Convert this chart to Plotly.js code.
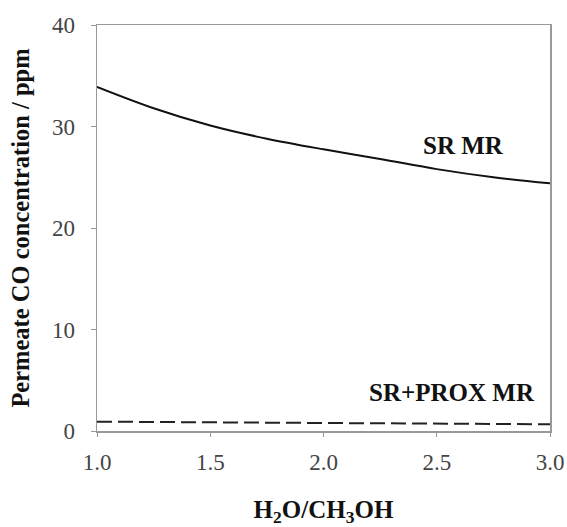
<!DOCTYPE html>
<html>
<head>
<meta charset="utf-8">
<script src="https://cdn.plot.ly/plotly-3.0.1.min.js"></script>
<style>html,body{margin:0;padding:0;background:#fff;}#chart{width:567px;height:527px;}</style>
</head>
<body>
<div id="chart"></div>
<script>
const ratio = [1.0, 1.25, 1.5, 1.75, 2.0, 2.25, 2.5, 2.75, 3.0];
const srMR = [33.9, 31.8, 30.1, 28.8, 27.75, 26.8, 25.8, 25.0, 24.4];
const srProxMR = [0.92, 0.88, 0.85, 0.81, 0.78, 0.75, 0.72, 0.69, 0.66];
const xTicks = [1.0, 1.5, 2.0, 2.5, 3.0];
const yTicks = [0, 10, 20, 30, 40];

const serif = '"Liberation Serif", "Times New Roman", serif';

const traces = [
  {x: ratio, y: srMR, mode: 'lines', line: {color: '#111', width: 2, shape: 'spline'}, showlegend: false, hoverinfo: 'skip'},
  {x: ratio, y: srProxMR, mode: 'lines', line: {color: '#222', width: 2, dash: '15px,6px'}, showlegend: false, hoverinfo: 'skip'}
];

const layout = {
  width: 567, height: 527,
  margin: {l: 97, r: 17, t: 25, b: 96},
  paper_bgcolor: '#fff', plot_bgcolor: '#fff',
  xaxis: {
    range: [1.0, 3.0], tickvals: xTicks, ticktext: xTicks.map(v => v.toFixed(1)),
    showgrid: false, zeroline: false, showline: true, mirror: true, linecolor: '#999', linewidth: 1.5,
    ticks: 'outside', ticklen: 4, tickcolor: '#999', tickwidth: 1,
    tickfont: {family: serif, size: 23, color: '#444'}, ticklabelstandoff: 6,
    title: {text: '<b>H<sub>2</sub>O/CH<sub>3</sub>OH</b>', font: {family: serif, size: 25, color: '#111'}, standoff: 27}
  },
  yaxis: {
    range: [0, 40], tickvals: yTicks,
    showgrid: false, zeroline: false, showline: true, mirror: true, linecolor: '#999', linewidth: 1.5,
    ticks: 'outside', ticklen: 5, tickcolor: '#999', tickwidth: 1,
    tickfont: {family: serif, size: 23, color: '#444'}, ticklabelstandoff: 11,
    title: {text: '<b>Permeate CO concentration / ppm</b>', font: {family: serif, size: 24.5, color: '#111'}, standoff: 15}
  },
  annotations: [
    {x: 2.616, y: 28.1, xref: 'x', yref: 'y', text: '<b>SR MR</b>', showarrow: false, font: {family: serif, size: 25, color: '#111'}},
    {x: 2.943, y: 3.75, xref: 'x', yref: 'y', xanchor: 'right', text: '<b>SR+PROX MR</b>', showarrow: false, font: {family: serif, size: 25, color: '#111'}}
  ]
};

Plotly.newPlot('chart', traces, layout, {staticPlot: true, displayModeBar: false});
</script>
</body>
</html>
